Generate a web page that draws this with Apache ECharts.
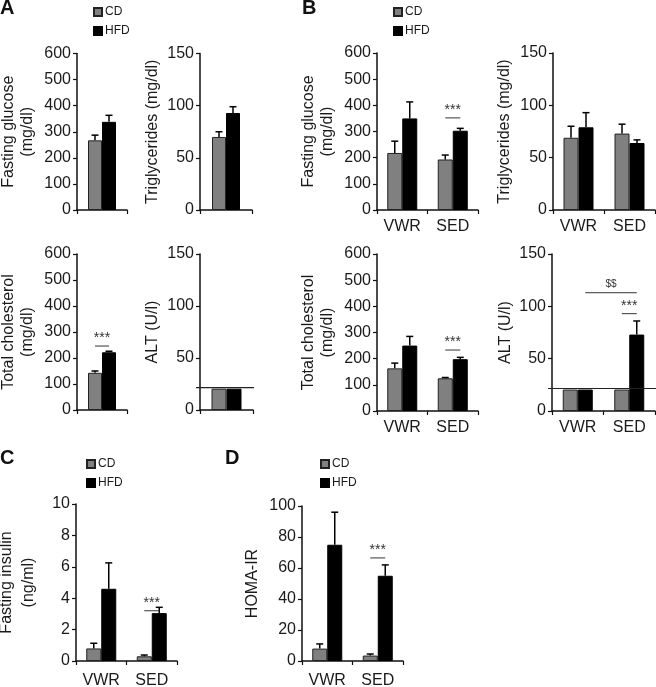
<!DOCTYPE html>
<html><head><meta charset="utf-8">
<script src="https://cdn.jsdelivr.net/npm/echarts@6/dist/echarts.min.js"></script>
<style>html,body{margin:0;padding:0;background:#fff}#c{width:656px;height:687px}</style>
</head><body><div id="c"></div>
<script>
// ---------------- DATA ----------------
const groups = ['VWR', 'SED'];
const seriesNames = ['CD', 'HFD'];

// Panel A (single group)
const glucA_CD = [267], glucA_CD_err = [20];
const glucA_HFD = [338], glucA_HFD_err = [25];
const trigA_CD = [70], trigA_CD_err = [5];
const trigA_HFD = [93], trigA_HFD_err = [6];
const cholA_CD = [143], cholA_CD_err = [7];
const cholA_HFD = [222], cholA_HFD_err = [4];
const altA_CD = [20.5], altA_CD_err = [0];
const altA_HFD = [20.5], altA_HFD_err = [0];

// Panel B (VWR, SED)
const glucB_CD = [218, 193], glucB_CD_err = [45, 17];
const glucB_HFD = [350, 303], glucB_HFD_err = [63, 9];
const trigB_CD = [69, 73], trigB_CD_err = [11, 9];
const trigB_HFD = [79, 64], trigB_HFD_err = [14, 3];
const cholB_CD = [163, 125], cholB_CD_err = [20, 3];
const cholB_HFD = [250, 198], cholB_HFD_err = [35, 7];
const altB_CD = [20.5, 20.5], altB_CD_err = [0, 0];
const altB_HFD = [20.5, 73], altB_HFD_err = [0, 13];

// Panel C, D
const insulin_CD = [0.8, 0.3], insulin_CD_err = [0.33, 0.08];
const insulin_HFD = [4.6, 3.05], insulin_HFD_err = [1.65, 0.37];
const homa_CD = [8, 3.5], homa_CD_err = [3, 1];
const homa_HFD = [75, 55], homa_HFD_err = [21, 7];

// ALT detection limit line
const altLimit = [21.5];

// Significance: [fromCat, fromSeries(0 CD / 1 HFD), toCat, toSeries, value], labels separately
const sigA3 = [[0, 0, 0, 1, 246]], sigA3_lab = ['***'];
const sigB1 = [[1, 0, 1, 1, 352]], sigB1_lab = ['***'];
const sigB3 = [[1, 0, 1, 1, 233]], sigB3_lab = ['***'];
const sigB4 = [[1, 0, 1, 1, 93], [0, 1, 1, 1, 113]], sigB4_lab = ['***', '$$'];
const sigC = [[1, 0, 1, 1, 3.2]], sigC_lab = ['***'];
const sigD = [[1, 0, 1, 1, 66.5]], sigD_lab = ['***'];

// Axis ranges / ticks
const axGluc = {max: 600, interval: 100};
const axTrig = {max: 150, interval: 50};
const axIns = {max: 10, interval: 2};
const axHoma = {max: 100, interval: 20};

// ---------------- LAYOUT / STYLE ----------------
const FONT = "'Liberation Sans', Arial, Helvetica, sans-serif";
const TXT = '#1a1a1a';
const GRAY = '#808080';

const panels = [
  {name: 'Fasting glucose\n(mg/dl)', cats: [''], cd: glucA_CD, cde: glucA_CD_err, hfd: glucA_HFD, hfde: glucA_HFD_err, ax: axGluc,
   g: {left: 77, top: 53.5, width: 50, height: 156.5}, bw: 14, gap: 40},
  {name: 'Triglycerides (mg/dl)', cats: [''], cd: trigA_CD, cde: trigA_CD_err, hfd: trigA_HFD, hfde: trigA_HFD_err, ax: axTrig,
   g: {left: 200, top: 53.5, width: 52, height: 156.5}, bw: 14, gap: 38},
  {name: 'Fasting glucose\n(mg/dl)', cats: groups, cd: glucB_CD, cde: glucB_CD_err, hfd: glucB_HFD, hfde: glucB_HFD_err, ax: axGluc,
   g: {left: 377, top: 53, width: 101, height: 157}, bw: 15, gap: 40, sig: sigB1, sigLab: sigB1_lab},
  {name: 'Triglycerides (mg/dl)', cats: groups, cd: trigB_CD, cde: trigB_CD_err, hfd: trigB_HFD, hfde: trigB_HFD_err, ax: axTrig,
   g: {left: 553, top: 53, width: 102, height: 157}, bw: 15, gap: 39},
  {name: 'Total cholesterol\n(mg/dl)', cats: [''], cd: cholA_CD, cde: cholA_CD_err, hfd: cholA_HFD, hfde: cholA_HFD_err, ax: axGluc,
   g: {left: 77, top: 254, width: 50, height: 156}, bw: 14, gap: 40, sig: sigA3, sigLab: sigA3_lab},
  {name: 'ALT (U/l)', cats: [''], cd: altA_CD, cde: altA_CD_err, hfd: altA_HFD, hfde: altA_HFD_err, ax: axTrig,
   g: {left: 200, top: 254, width: 53, height: 156}, bw: 15, gap: 38, limit: altLimit},
  {name: 'Total cholesterol\n(mg/dl)', cats: groups, cd: cholB_CD, cde: cholB_CD_err, hfd: cholB_HFD, hfde: cholB_HFD_err, ax: axGluc,
   g: {left: 377, top: 254, width: 101, height: 157}, bw: 15, gap: 40, sig: sigB3, sigLab: sigB3_lab},
  {name: 'ALT (U/l)', cats: groups, cd: altB_CD, cde: altB_CD_err, hfd: altB_HFD, hfde: altB_HFD_err, ax: axTrig,
   g: {left: 552, top: 254, width: 103, height: 157}, bw: 15, gap: 37, limit: altLimit, sig: sigB4, sigLab: sigB4_lab},
  {name: 'Fasting insulin\n(ng/ml)', cats: groups, cd: insulin_CD, cde: insulin_CD_err, hfd: insulin_HFD, hfde: insulin_HFD_err, ax: axIns,
   g: {left: 76, top: 504, width: 101, height: 157}, bw: 15, gap: 36, lh: 22, catMargin: 12, sig: sigC, sigLab: sigC_lab},
  {name: 'HOMA-IR', cats: groups, cd: homa_CD, cde: homa_CD_err, hfd: homa_HFD, hfde: homa_HFD_err, ax: axHoma,
   g: {left: 302, top: 506, width: 101, height: 155}, bw: 15, gap: 40, catMargin: 12, sig: sigD, sigLab: sigD_lab}
];

const grid = [], xAxis = [], yAxis = [], series = [];

function errRender(half) {
  return function (params, api) {
    const c = api.value(0), v = api.value(1), e = api.value(2), s = api.value(3);
    if (!(e > 0)) return;
    const p0 = api.coord([c, v]);
    const p1 = api.coord([c, v + e]);
    const x = p0[0] + s * half;
    const st = {stroke: '#000', lineWidth: 1.5};
    return {type: 'group', children: [
      {type: 'line', shape: {x1: x, y1: p0[1], x2: x, y2: p1[1]}, style: st},
      {type: 'line', shape: {x1: x - 3.5, y1: p1[1], x2: x + 3.5, y2: p1[1]}, style: st}
    ]};
  };
}

function sigRender(half, labels) {
  return function (params, api) {
    const c1 = api.value(0), s1 = api.value(1), c2 = api.value(2), s2 = api.value(3), v = api.value(4);
    const a = api.coord([c1, v]), b = api.coord([c2, v]);
    const x1 = a[0] + (s1 ? 1 : -1) * half, x2 = b[0] + (s2 ? 1 : -1) * half;
    const lab = labels[params.dataIndex];
    const isStar = lab.indexOf('*') >= 0;
    return {type: 'group', children: [
      {type: 'line', shape: {x1: x1, y1: a[1], x2: x2, y2: a[1]}, style: {stroke: '#333', lineWidth: 1}},
      {type: 'text', x: (x1 + x2) / 2, y: a[1] - (isStar ? 1 : 3),
       style: {text: lab, fill: '#333', font: (isStar ? '14px ' : '10px ') + FONT, align: 'center', verticalAlign: 'bottom'}}
    ]};
  };
}

function limitRender(params, api) {
  const v = api.value(0);
  const cs = params.coordSys;
  const y = api.coord([0, v])[1];
  return {type: 'line', shape: {x1: cs.x - 4, y1: y, x2: cs.x + cs.width + 1, y2: y},
    style: {stroke: '#222', lineWidth: 1.2}};
}

panels.forEach((p, i) => {
  grid.push(Object.assign({outerBoundsMode: 'none', containLabel: false}, p.g));
  xAxis.push({
    type: 'category', gridIndex: i, data: p.cats, boundaryGap: true,
    axisLine: {lineStyle: {color: '#111', width: 1.5}},
    axisTick: {show: true, length: 4, alignWithLabel: false, lineStyle: {color: '#111', width: 1.2}},
    axisLabel: {show: p.cats.length > 1, fontSize: 16, color: TXT, fontFamily: FONT, margin: p.catMargin || 9},
    splitLine: {show: false}
  });
  yAxis.push({
    type: 'value', gridIndex: i, min: 0, max: p.ax.max, interval: p.ax.interval,
    name: p.name, nameLocation: 'middle', nameGap: p.gap,
    nameTextStyle: {fontSize: 16, color: TXT, fontFamily: FONT, lineHeight: p.lh || 19},
    axisLine: {show: true, lineStyle: {color: '#111', width: 1.5}},
    axisTick: {show: true, length: 4, lineStyle: {color: '#111', width: 1.2}},
    axisLabel: {fontSize: 16, color: TXT, fontFamily: FONT, margin: 6},
    splitLine: {show: false}
  });
  const half = p.bw / 2;
  series.push({
    type: 'bar', name: 'CD', xAxisIndex: i, yAxisIndex: i, data: p.cd, barWidth: p.bw, barGap: '0%',
    itemStyle: {color: GRAY, borderColor: '#222', borderWidth: 1}, animation: false, z: 2
  }, {
    type: 'bar', name: 'HFD', xAxisIndex: i, yAxisIndex: i, data: p.hfd, barWidth: p.bw, barGap: '0%',
    itemStyle: {color: '#000', borderColor: '#000', borderWidth: 1}, animation: false, z: 2
  });
  if (p.limit) {
    series.push({type: 'custom', name: 'limit', xAxisIndex: i, yAxisIndex: i,
      data: p.limit.map(v => [v]), encode: {y: 0},
      renderItem: limitRender, animation: false, z: 3, silent: true, clip: false});
  }
  const errData = [];
  p.cd.forEach((v, k) => errData.push([k, v, p.cde[k], -1]));
  p.hfd.forEach((v, k) => errData.push([k, v, p.hfde[k], 1]));
  series.push({type: 'custom', name: 'err', xAxisIndex: i, yAxisIndex: i, data: errData,
    renderItem: errRender(half), animation: false, z: 3, silent: true});
  if (p.sig) {
    series.push({type: 'custom', name: 'sig', xAxisIndex: i, yAxisIndex: i, data: p.sig,
      renderItem: sigRender(half, p.sigLab), animation: false, z: 4, silent: true});
  }
});

const legendBase = {
  orient: 'vertical', data: seriesNames, itemWidth: 8, itemHeight: 8, itemGap: 7, padding: 0,
  icon: 'rect', selectedMode: false,
  textStyle: {fontSize: 12, color: TXT, fontFamily: FONT, padding: [0, 0, 0, -2]}
};
const legend = [
  Object.assign({}, legendBase, {left: 93, top: 6}),
  Object.assign({}, legendBase, {left: 393, top: 6}),
  Object.assign({}, legendBase, {left: 86, top: 458}),
  Object.assign({}, legendBase, {left: 320, top: 458})
];

const letterStyle = {fontSize: 20, fontWeight: 'bold', color: '#111', fontFamily: FONT};
const title = [
  {text: 'A', left: 0, top: -2, padding: 0, textStyle: letterStyle},
  {text: 'B', left: 302, top: -2, padding: 0, textStyle: letterStyle},
  {text: 'C', left: 0, top: 448, padding: 0, textStyle: letterStyle},
  {text: 'D', left: 225, top: 448, padding: 0, textStyle: letterStyle}
];

const chart = echarts.init(document.getElementById('c'), null, {renderer: 'canvas'});
chart.setOption({animation: false, backgroundColor: '#fff', title, legend, grid, xAxis, yAxis, series});
</script></body></html>
